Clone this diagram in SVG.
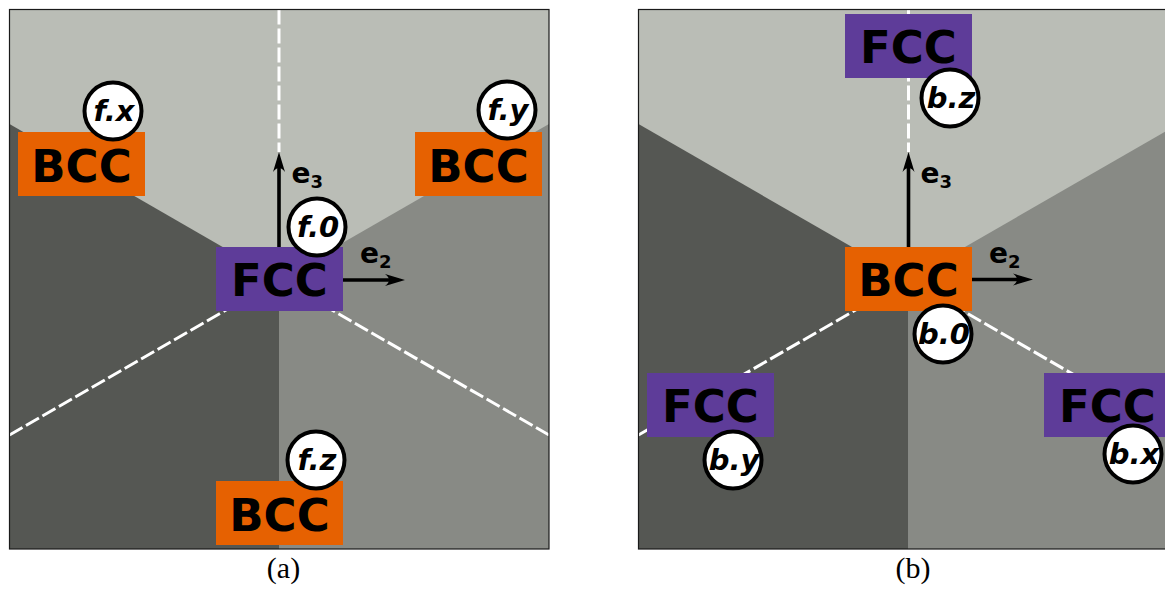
<svg xmlns="http://www.w3.org/2000/svg" width="1165" height="589" viewBox="0 0 1165 589">
  <defs>
    <style>
      .light { fill: #babdb6; }
      .dark { fill: #555753; }
      .mid { fill: #888a85; }
      .frame { fill: none; stroke: #1a1a1a; stroke-width: 1.2; }
      .cut { fill: none; stroke: #ffffff; stroke-width: 3; stroke-dasharray: 15 4; }
      .axis { fill: none; stroke: #000000; stroke-width: 3.6; marker-end: url(#head); }
      .bcc { fill: #e66101; }
      .fcc { fill: #5e3c99; }
      .phase { font-family: "DejaVu Sans", sans-serif; font-weight: bold; font-size: 45px; fill: #000000; text-anchor: middle; }
      .tag circle { fill: #ffffff; stroke: #000000; stroke-width: 4; }
      .tag text { font-family: "DejaVu Sans", sans-serif; font-weight: bold; font-style: oblique; font-size: 29px; fill: #000000; text-anchor: middle; }
      .vec { font-family: "DejaVu Sans", sans-serif; font-weight: bold; font-size: 28px; fill: #000000; }
      .vec tspan { font-size: 18px; }
      .caption { font-family: "Liberation Serif", serif; font-size: 30px; fill: #000000; text-anchor: middle; }
    </style>
    <marker id="head" markerUnits="userSpaceOnUse" markerWidth="22" markerHeight="14" refX="5" refY="7" orient="auto">
      <path d="M20,7 L0,1 Q8,7 0,13 Z" fill="#000000"/>
    </marker>
    <clipPath id="clipA"><rect x="9.5" y="9.5" width="539.5" height="539.5"/></clipPath>
    <clipPath id="clipB"><rect x="638.5" y="9.5" width="540" height="539.5"/></clipPath>
  </defs>

  <!-- panel (a): FCC centred -->
  <g id="panel-a-background" clip-path="url(#clipA)">
    <rect class="light" x="9.5" y="9.5" width="539.5" height="539.5"/>
    <polygon class="dark" points="9.5,124 279,279.5 279,549 9.5,549"/>
    <polygon class="mid" points="549,124 279,279.5 279,549 549,549"/>
  </g>

  <!-- panel (b): BCC centred -->
  <g id="panel-b-background" clip-path="url(#clipB)">
    <rect class="light" x="638.5" y="9.5" width="540" height="539.5"/>
    <polygon class="dark" points="638.5,124 908.5,279.5 908.5,549 638.5,549"/>
    <polygon class="mid" points="1178.5,124 908.5,279.5 908.5,549 1178.5,549"/>
  </g>

  <g id="connectors">
    <!-- dashed cut lines -->
    <line class="cut" x1="279" y1="9.5" x2="279" y2="152"/>
    <line class="cut" x1="9.5" y1="435" x2="279" y2="279.5"/>
    <line class="cut" x1="549" y1="435" x2="279" y2="279.5"/>
    <line class="cut" x1="908.5" y1="9.5" x2="908.5" y2="152"/>
    <line class="cut" x1="638.5" y1="435" x2="908.5" y2="279.5"/>
    <line class="cut" x1="1178.5" y1="435" x2="908.5" y2="279.5"/>
    <!-- basis vectors -->
    <line class="axis" x1="279" y1="247" x2="279" y2="167"/>
    <line class="axis" x1="343" y1="280" x2="390" y2="280"/>
    <line class="axis" x1="908.5" y1="247" x2="908.5" y2="167"/>
    <line class="axis" x1="972" y1="279.5" x2="1018" y2="279.5"/>
  </g>

  <g id="frames">
    <rect class="frame" x="9.5" y="9.5" width="539.5" height="539.5"/>
    <rect class="frame" x="638.5" y="9.5" width="540" height="539.5"/>
  </g>

  <g id="vector-labels">
    <text class="vec" x="291.5" y="182.5">e<tspan dy="5">3</tspan></text>
    <text class="vec" x="360" y="263">e<tspan dy="5">2</tspan></text>
    <text class="vec" x="920.5" y="183">e<tspan dy="5">3</tspan></text>
    <text class="vec" x="989" y="262.5">e<tspan dy="5">2</tspan></text>
  </g>

  <!-- panel (a) nodes -->
  <g id="a-fcc-centre">
    <rect class="fcc" x="216" y="247" width="127" height="64"/>
    <text class="phase" x="279.5" y="295.5">FCC</text>
  </g>
  <g id="a-bcc-x">
    <rect class="bcc" x="18" y="132" width="127" height="64"/>
    <text class="phase" x="81.5" y="181.5">BCC</text>
  </g>
  <g id="a-bcc-y">
    <rect class="bcc" x="415" y="132" width="127" height="64"/>
    <text class="phase" x="478.5" y="181.5">BCC</text>
  </g>
  <g id="a-bcc-z">
    <rect class="bcc" x="216" y="481" width="127" height="64"/>
    <text class="phase" x="279.5" y="530.5">BCC</text>
  </g>
  <g id="tag-f-x" class="tag">
    <circle cx="113" cy="111" r="28.5"/>
    <text x="114" y="121">f.x</text>
  </g>
  <g id="tag-f-y" class="tag">
    <circle cx="507" cy="110" r="28.5"/>
    <text x="508" y="120">f.y</text>
  </g>
  <g id="tag-f-0" class="tag">
    <circle cx="317" cy="227" r="28.5"/>
    <text x="318" y="236.5">f.0</text>
  </g>
  <g id="tag-f-z" class="tag">
    <circle cx="316" cy="460" r="28.5"/>
    <text x="317" y="470">f.z</text>
  </g>

  <!-- panel (b) nodes -->
  <g id="b-bcc-centre">
    <rect class="bcc" x="845" y="247" width="127" height="64"/>
    <text class="phase" x="908.5" y="295.5">BCC</text>
  </g>
  <g id="b-fcc-z">
    <rect class="fcc" x="845" y="14" width="127" height="64"/>
    <text class="phase" x="908.5" y="62.5">FCC</text>
  </g>
  <g id="b-fcc-y">
    <rect class="fcc" x="647" y="373" width="127" height="64"/>
    <text class="phase" x="710.5" y="421.5">FCC</text>
  </g>
  <g id="b-fcc-x">
    <rect class="fcc" x="1044" y="373" width="127" height="64"/>
    <text class="phase" x="1107.5" y="421.5">FCC</text>
  </g>
  <g id="tag-b-z" class="tag">
    <circle cx="950" cy="98" r="28.5"/>
    <text x="951" y="108">b.z</text>
  </g>
  <g id="tag-b-0" class="tag">
    <circle cx="943" cy="334" r="28.5"/>
    <text x="944" y="344">b.0</text>
  </g>
  <g id="tag-b-x" class="tag">
    <circle cx="1133" cy="454" r="28.5"/>
    <text x="1134" y="464">b.x</text>
  </g>
  <g id="tag-b-y" class="tag">
    <circle cx="733" cy="460" r="28.5"/>
    <text x="734" y="470">b.y</text>
  </g>

  <g id="captions">
    <text class="caption" x="283.5" y="578">(a)</text>
    <text class="caption" x="913" y="578">(b)</text>
  </g>
</svg>
